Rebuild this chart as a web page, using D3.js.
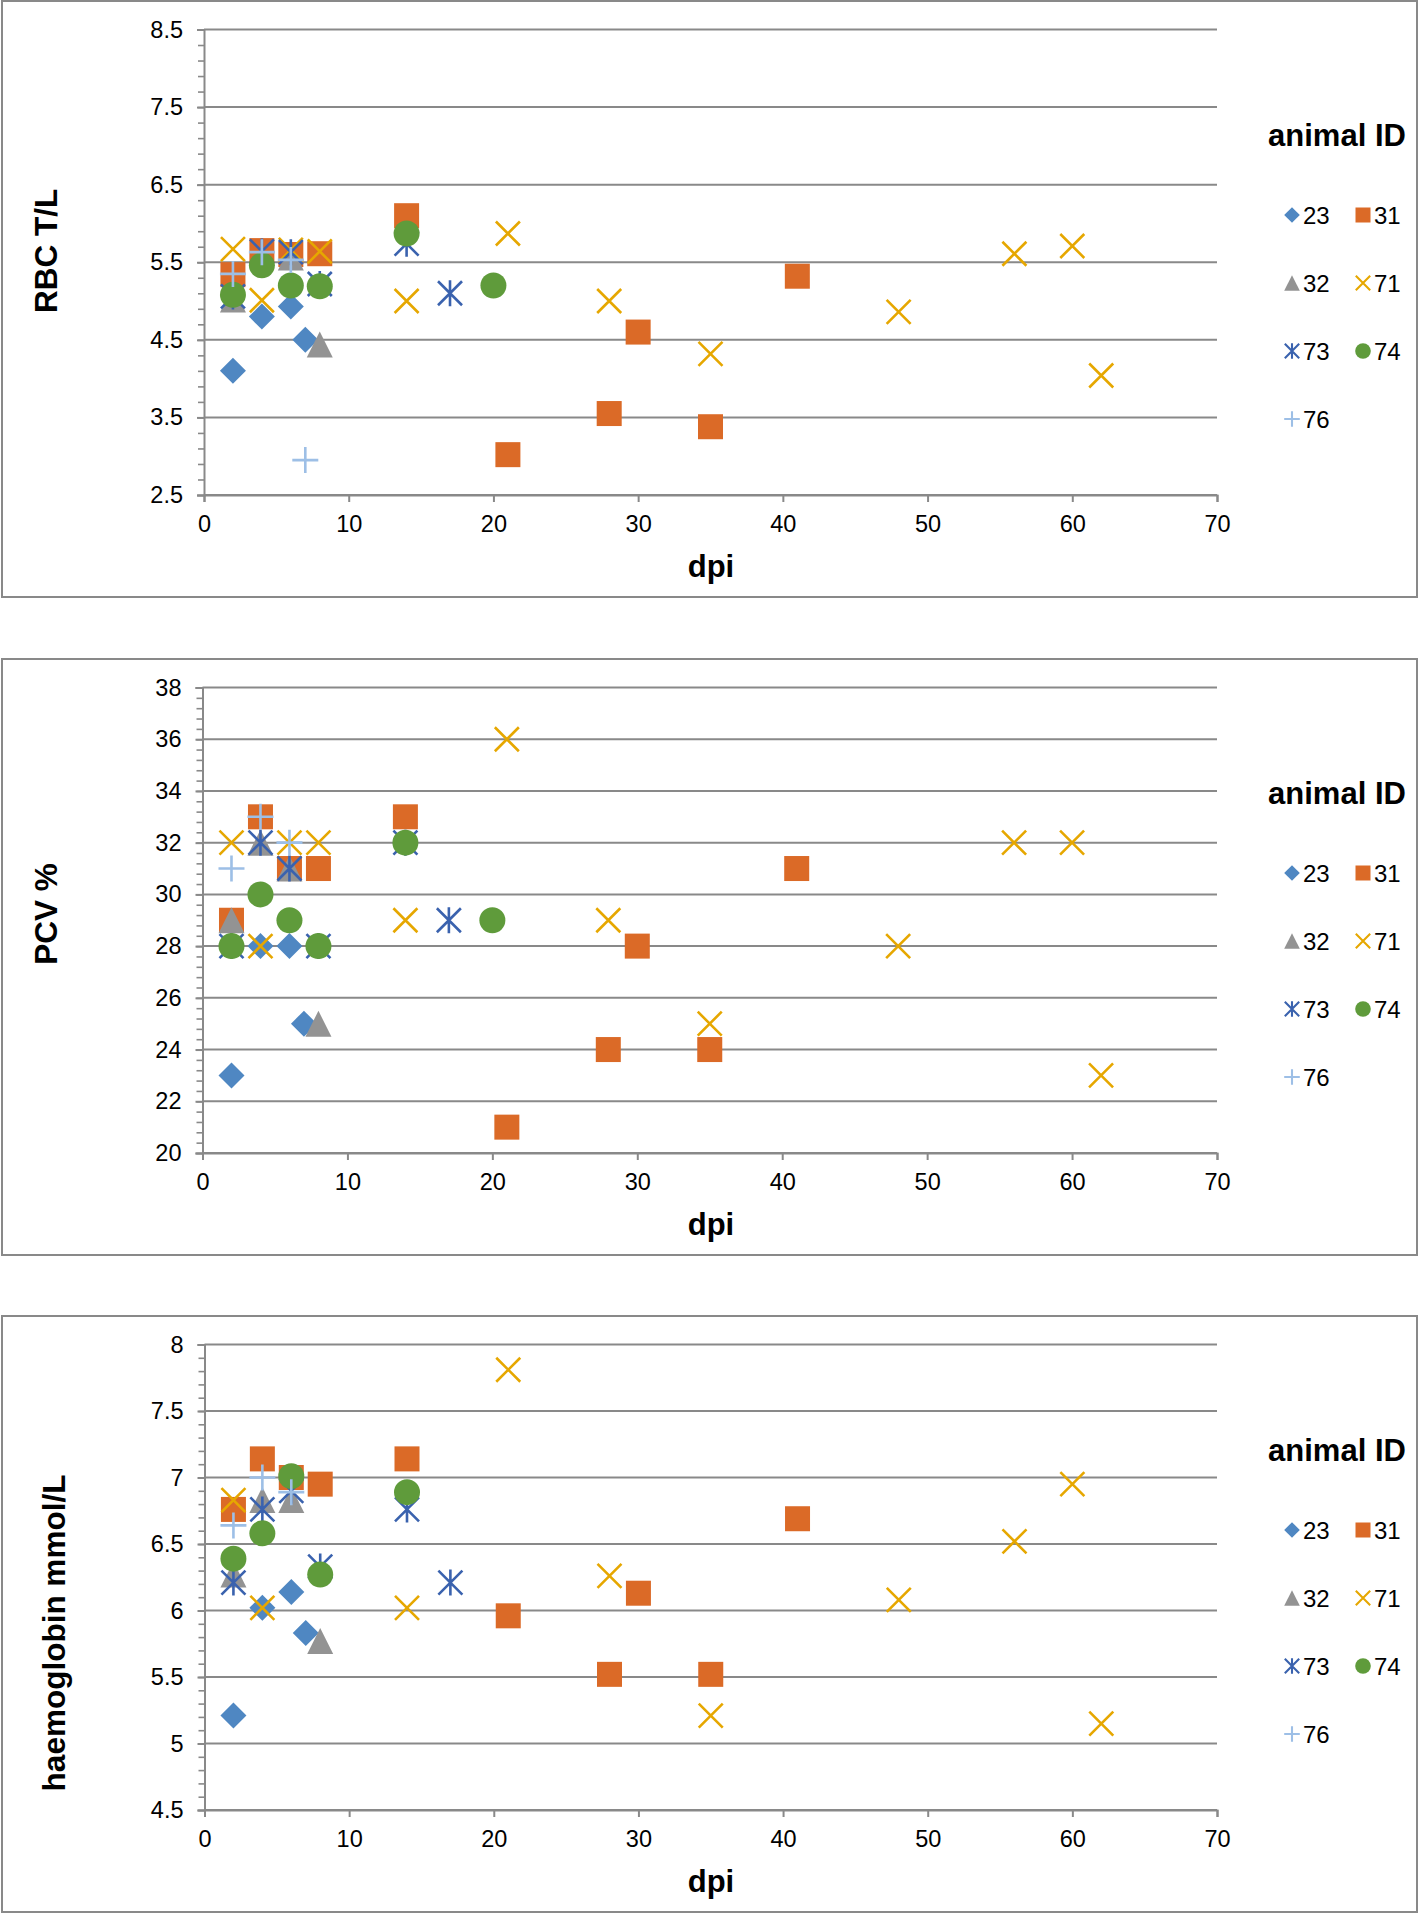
<!DOCTYPE html>
<html><head><meta charset="utf-8">
<script src="https://cdn.jsdelivr.net/npm/d3@7"></script>
<style>
body{margin:0;background:#fff}
svg{display:block}
text{font-family:"Liberation Sans",Arial,Helvetica,sans-serif;fill:#000}
</style>
</head><body>
<svg id="c" width="1419" height="1914"></svg>
<script>
// ---------- data ----------
const animalIds = ["23","31","32","71","73","74","76"];
const markerShapes = ["diamond","square","triangle","x","asterisk","circle","plus"];
const markerColors = ["#4f87c2","#db6a27","#939393","#e6a700","#3a62ae","#5f9b3b","#9dbfe6"];
const dpiTicks = [0,10,20,30,40,50,60,70];

const rbcTicks = [2.5,3.5,4.5,5.5,6.5,7.5,8.5];
const pcvTicks = [20,22,24,26,28,30,32,34,36,38];
const hbTicks = [4.5,5,5.5,6,6.5,7,7.5,8];

// RBC T/L  [dpi, value]
const rbc23 = [[2,4.1],[4,4.8],[6,4.93],[7,4.5]];
const rbc31 = [[2,5.34],[4,5.65],[6,5.6],[8,5.61],[14,6.1],[21,3.02],[28,3.55],[30,4.6],[35,3.38],[41,5.32]];
const rbc32 = [[2,5.02],[6,5.56],[8,4.44]];
const rbc71 = [[2,5.67],[4,5.01],[6,5.66],[8,5.64],[14,5.0],[21,5.87],[28,5.0],[35,4.32],[48,4.86],[56,5.61],[60,5.71],[62,4.04]];
const rbc73 = [[2,5.06],[4,5.64],[6,5.63],[8,5.22],[14,5.74],[17,5.1]];
const rbc74 = [[2,5.08],[4,5.46],[6,5.2],[8,5.19],[14,5.87],[20,5.2]];
const rbc76 = [[2,5.35],[4,5.63],[6,5.53],[7,2.95]];

// PCV %
const pcv23 = [[2,23],[4,28],[6,28],[7,25]];
const pcv31 = [[2,29],[4,33],[6,31],[8,31],[14,33],[21,21],[28,24],[30,28],[35,24],[41,31]];
const pcv32 = [[2,29],[4,32],[6,31],[8,25]];
const pcv71 = [[2,32],[4,28],[6,32],[8,32],[14,29],[21,36],[28,29],[35,25],[48,28],[56,32],[60,32],[62,23]];
const pcv73 = [[2,28],[4,32],[6,31],[8,28],[14,32],[17,29]];
const pcv74 = [[2,28],[4,30],[6,29],[8,28],[14,32],[20,29]];
const pcv76 = [[2,31],[4,33],[6,32]];

// haemoglobin mmol/L
const hb23 = [[2,5.21],[4,6.02],[6,6.14],[7,5.83]];
const hb31 = [[2,6.76],[4,7.14],[6,7.0],[8,6.95],[14,7.14],[21,5.96],[28,5.52],[30,6.13],[35,5.52],[41,6.69]];
const hb32 = [[2,6.27],[4,6.83],[6,6.83],[8,5.77]];
const hb71 = [[2,6.83],[4,6.02],[14,6.02],[21,7.81],[28,6.26],[35,5.21],[48,6.08],[56,6.52],[60,6.95],[62,5.15]];
const hb73 = [[2,6.21],[4,6.76],[6,6.9],[8,6.33],[14,6.76],[17,6.21]];
const hb74 = [[2,6.39],[4,6.58],[6,7.01],[8,6.27],[14,6.89]];
const hb76 = [[2,6.64],[4,7.0],[6,6.89]];

const panels = [
  {top:1, title:"RBC T/L", ticks:rbcTicks, minor:0.2, fmt:d3.format(".1f"), left:204, titleX:46, titleY:250,
   series:[rbc23,rbc31,rbc32,rbc71,rbc73,rbc74,rbc76]},
  {top:659, title:"PCV %", ticks:pcvTicks, minor:0.4, fmt:d3.format("d"), left:202.5, titleX:46, titleY:255,
   series:[pcv23,pcv31,pcv32,pcv71,pcv73,pcv74,pcv76]},
  {top:1316, title:"haemoglobin mmol/L", ticks:hbTicks, minor:0.1, fmt:d3.format(""), left:204.5, titleX:54, titleY:317,
   series:[hb23,hb31,hb32,hb71,hb73,hb74,hb76]}
];

// ---------- drawing ----------
const svg = d3.select("#c");
const AX = "#898989";

function drawMarker(g, shape, color, s){
  const h = 13*s;
  if(shape==="diamond"){
    g.append("path").attr("d",`M0,${-h}L${h},0L0,${h}L${-h},0Z`).attr("fill",color);
  } else if(shape==="square"){
    g.append("rect").attr("x",-12.5*s).attr("y",-12.5*s).attr("width",25*s).attr("height",25*s).attr("fill",color);
  } else if(shape==="triangle"){
    g.append("path").attr("d",`M0,${-h}L${h},${h}L${-h},${h}Z`).attr("fill",color);
  } else if(shape==="circle"){
    g.append("circle").attr("r",h).attr("fill",color);
  } else if(shape==="x"){
    const a=12*s;
    g.append("path").attr("d",`M${-a},${-a}L${a},${a}M${a},${-a}L${-a},${a}`).attr("stroke",color).attr("stroke-width",2.6*Math.max(s,0.8)).attr("fill","none");
  } else if(shape==="asterisk"){
    const a=12*s;
    g.append("path").attr("d",`M${-a},${-a}L${a},${a}M${a},${-a}L${-a},${a}M0,${-h}L0,${h}`).attr("stroke",color).attr("stroke-width",2.6*Math.max(s,0.8)).attr("fill","none");
  } else if(shape==="plus"){
    g.append("path").attr("d",`M${-h},0L${h},0M0,${-h}L0,${h}`).attr("stroke",color).attr("stroke-width",2.6*Math.max(s,0.8)).attr("fill","none");
  }
}

panels.forEach(p=>{
  const T = p.top;
  const g = svg.append("g").attr("transform",`translate(0,${T})`);
  g.append("rect").attr("x",2).attr("y",0).attr("width",1415).attr("height",596)
    .attr("fill","#fff").attr("stroke",AX).attr("stroke-width",2);

  const yMin = p.ticks[0], yMax = p.ticks[p.ticks.length-1];
  const x = d3.scaleLinear().domain([0,70]).range([p.left,1217]);
  const y = d3.scaleLinear().domain([yMin,yMax]).range([494,28.5]);

  // gridlines
  g.append("g").selectAll("line").data(p.ticks).join("line")
    .attr("x1",x(0)).attr("x2",x(70)).attr("y1",d=>y(d)).attr("y2",d=>y(d))
    .attr("stroke",AX).attr("stroke-width",2);

  // minor ticks
  const minorVals = d3.range(yMin, yMax+1e-9, p.minor);
  const minorAx = g.append("g").attr("transform",`translate(${x(0)},0)`)
    .call(d3.axisLeft(y).tickValues(minorVals).tickSize(6).tickFormat(""));
  minorAx.select(".domain").remove();
  minorAx.selectAll("line").attr("stroke",AX).attr("stroke-width",1.6);

  // y axis
  const yAx = g.append("g").attr("transform",`translate(${x(0)},0)`)
    .call(d3.axisLeft(y).tickValues(p.ticks).tickSize(7).tickPadding(14).tickFormat(p.fmt));
  yAx.select(".domain").attr("stroke",AX).attr("stroke-width",2);
  yAx.selectAll("line").attr("stroke",AX).attr("stroke-width",2);
  yAx.selectAll("text").attr("font-size",23.5).attr("fill","#000");

  // x axis
  const xAx = g.append("g").attr("transform",`translate(0,${y(yMin)})`)
    .call(d3.axisBottom(x).tickValues(dpiTicks).tickSize(7).tickPadding(13.5).tickFormat(d3.format("d")));
  xAx.select(".domain").attr("stroke",AX).attr("stroke-width",2);
  xAx.selectAll("line").attr("stroke",AX).attr("stroke-width",2);
  xAx.selectAll("text").attr("font-size",23.5).attr("fill","#000");

  // titles
  g.append("text").attr("transform",`translate(${p.titleX},${p.titleY}) rotate(-90)`)
    .attr("text-anchor","middle").attr("dominant-baseline","central")
    .attr("font-size",31.5).attr("font-weight","bold").text(p.title);
  g.append("text").attr("x",711).attr("y",565).attr("text-anchor","middle").attr("dominant-baseline","central")
    .attr("font-size",31).attr("font-weight","bold").text("dpi");

  // markers
  p.series.forEach((ser,i)=>{
    const sg = g.append("g");
    ser.forEach(d=>{
      const mg = sg.append("g").attr("transform",`translate(${x(d[0])},${y(d[1])})`);
      drawMarker(mg, markerShapes[i], markerColors[i], 1);
    });
  });

  // legend
  g.append("text").attr("x",1337).attr("y",134).attr("text-anchor","middle").attr("dominant-baseline","central")
    .attr("font-size",31).attr("font-weight","bold").text("animal ID");
  const rowsY = [214,282,350,418];
  const colsX = [1292,1363];
  animalIds.forEach((id,i)=>{
    const cx = colsX[i%2], cy = rowsY[Math.floor(i/2)];
    const lg = g.append("g").attr("transform",`translate(${cx},${cy})`);
    drawMarker(lg, markerShapes[i], markerColors[i], 0.6);
    g.append("text").attr("x",cx+11).attr("y",cy).attr("dominant-baseline","central")
      .attr("font-size",24).text(id);
  });
});
</script>
</body></html>
